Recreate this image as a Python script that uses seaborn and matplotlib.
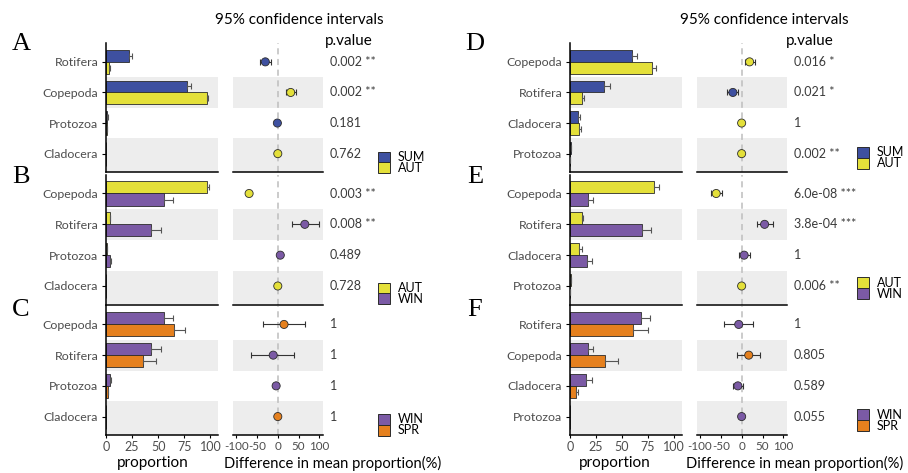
import numpy as np
import pandas as pd
import matplotlib
matplotlib.use("Agg")
import matplotlib.pyplot as plt
import seaborn as sns
from matplotlib.patches import Rectangle
from matplotlib.transforms import blended_transform_factory

# ---------------- data ----------------
A_cats = ["Rotifera", "Copepoda", "Protozoa", "Cladocera"]
A_groups = ["SUM", "AUT"]
A_mean1 = [22.0, 78.0, 1.2, 0.0]
A_err1 = [3.0, 3.5, 0.3, 0.0]
A_mean2 = [3.0, 96.5, 0.6, 0.0]
A_err2 = [0.6, 1.0, 0.2, 0.0]
A_diff = [-30.0, 31.0, -1.0, 0.0]
A_lo = [-42.0, 19.0, -1.0, 0.0]
A_hi = [-16.0, 44.0, -1.0, 0.0]
A_dgroup = ["SUM", "AUT", "SUM", "AUT"]
A_p = ["0.002 **", "0.002 **", "0.181", "0.762"]

B_cats = ["Copepoda", "Rotifera", "Protozoa", "Cladocera"]
B_groups = ["AUT", "WIN"]
B_mean1 = [96.5, 3.4, 0.5, 0.0]
B_err1 = [1.8, 0.8, 0.2, 0.0]
B_mean2 = [55.5, 43.0, 3.8, 0.0]
B_err2 = [8.5, 9.5, 1.3, 0.0]
B_diff = [-69.0, 65.0, 6.0, 0.0]
B_lo = [-69.0, 33.0, 6.0, 0.0]
B_hi = [-69.0, 99.0, 6.0, 0.0]
B_dgroup = ["AUT", "WIN", "WIN", "AUT"]
B_p = ["0.003 **", "0.008 **", "0.489", "0.728"]

C_cats = ["Copepoda", "Rotifera", "Protozoa", "Cladocera"]
C_groups = ["WIN", "SPR"]
C_mean1 = [55.5, 43.0, 3.8, 0.0]
C_err1 = [8.5, 9.5, 1.3, 0.0]
C_mean2 = [64.8, 35.7, 1.5, 0.0]
C_err2 = [11.0, 12.0, 0.5, 0.0]
C_diff = [15.0, -11.0, -4.0, 0.0]
C_lo = [-35.0, -64.0, -4.0, 0.0]
C_hi = [66.0, 40.0, -4.0, 0.0]
C_dgroup = ["SPR", "WIN", "WIN", "SPR"]
C_p = ["1", "1", "1", "1"]

D_cats = ["Copepoda", "Rotifera", "Cladocera", "Protozoa"]
D_groups = ["SUM", "AUT"]
D_mean1 = [59.5, 32.8, 8.0, 0.6]
D_err1 = [5.0, 6.0, 1.2, 0.1]
D_mean2 = [79.3, 11.1, 8.6, 0.3]
D_err2 = [3.5, 2.6, 2.2, 0.1]
D_diff = [19.0, -21.0, 0.0, 0.0]
D_lo = [7.0, -34.0, 0.0, 0.0]
D_hi = [31.0, -9.0, 0.0, 0.0]
D_dgroup = ["AUT", "SUM", "AUT", "AUT"]
D_p = ["0.016 *", "0.021 *", "1", "0.002 **"]

E_cats = ["Copepoda", "Rotifera", "Cladocera", "Protozoa"]
E_groups = ["AUT", "WIN"]
E_mean1 = [81.2, 11.8, 8.9, 0.5]
E_err1 = [4.0, 1.0, 2.9, 0.1]
E_mean2 = [17.5, 69.4, 15.9, 0.3]
E_err2 = [4.8, 8.6, 5.4, 0.1]
E_diff = [-61.0, 55.0, 6.0, 0.0]
E_lo = [-73.0, 36.0, -6.0, 0.0]
E_hi = [-48.0, 76.0, 19.0, 0.0]
E_dgroup = ["AUT", "WIN", "WIN", "AUT"]
E_p = ["6.0e-08 ***", "3.8e-04 ***", "1", "0.006 **"]

F_cats = ["Rotifera", "Copepoda", "Cladocera", "Protozoa"]
F_groups = ["WIN", "SPR"]
F_mean1 = [68.5, 16.9, 15.3, 0.2]
F_err1 = [8.2, 4.8, 5.7, 0.0]
F_mean2 = [60.8, 34.1, 6.0, 0.1]
F_err2 = [14.4, 11.7, 2.0, 0.0]
F_diff = [-7.0, 17.0, -9.0, 0.0]
F_lo = [-42.0, -10.0, -21.0, 0.0]
F_hi = [27.0, 44.0, 4.0, 0.0]
F_dgroup = ["WIN", "SPR", "WIN", "WIN"]
F_p = ["1", "0.805", "0.589", "0.055"]

bar_ticks = [0, 25, 50, 75, 100]
diff_ticks = [-100, -50, 0, 50, 100]

# ---------------- style ----------------
W, H = 908, 473
sns.set_theme(style="white")
plt.rcParams['font.family'] = ['Lato', 'DejaVu Sans']

COLORS = {"SUM": "#3E50A0", "AUT": "#E4E03A", "WIN": "#7B5AA5", "SPR": "#E5801E"}
BAND = "#EDEDED"
TXT = "#4D4D4D"

fig = plt.figure(figsize=(W / 100, H / 100), dpi=100)


def px_axes(x0, x1, y0, y1):
    return fig.add_axes([x0 / W, 1 - y1 / H, (x1 - x0) / W, (y1 - y0) / H])


def bands(ax):
    ax.axhspan(0.5, 1.5, color=BAND, lw=0, zorder=0)
    ax.axhspan(2.5, 3.6, color=BAND, lw=0, zorder=0)


def draw_bars(ax, cats, groups, m1, e1, m2, e2, bottom):
    bands(ax)
    df = pd.DataFrame({
        "cat": cats + cats,
        "group": [groups[0]] * len(cats) + [groups[1]] * len(cats),
        "value": list(m1) + list(m2),
    })
    sns.barplot(data=df, x="value", y="cat", hue="group", order=cats,
                hue_order=groups, palette=COLORS, orient="h", width=0.78,
                saturation=1, edgecolor="#2b2b2b", linewidth=0.6,
                errorbar=None, legend=False, ax=ax, zorder=2)
    pos = np.arange(len(cats))
    for m, e, off in [(m1, e1, -0.195), (m2, e2, 0.195)]:
        m = np.asarray(m); e = np.asarray(e)
        keep = e > 0
        ax.errorbar(m[keep], pos[keep] + off, xerr=[np.zeros(keep.sum()), e[keep]],
                    fmt="none", ecolor="#555555", elinewidth=0.8, capsize=2.3,
                    capthick=0.8, zorder=3)
    ax.set_xlim(0, 107.5)
    ax.set_ylim(3.6, -0.6)
    ax.set_xlabel("")
    ax.set_ylabel("")
    for s in ["top", "right"]:
        ax.spines[s].set_visible(False)
    for s in ["left", "bottom"]:
        ax.spines[s].set_color("black")
        ax.spines[s].set_linewidth(1.1)
    ax.tick_params(axis="y", length=3, width=0.8, color="black", pad=2.5,
                   labelsize=8.9, labelcolor=TXT, left=True)
    if bottom:
        ax.set_xticks(bar_ticks)
        ax.set_xticklabels([str(t) for t in bar_ticks])
        ax.tick_params(axis="x", length=2.3, width=0.8, color="black", pad=2,
                       labelsize=9, labelcolor=TXT, bottom=True)
    else:
        ax.set_xticks([])


def draw_diff(ax, cats, diff, lo, hi, dgroup, pvals, bottom):
    bands(ax)
    ax.axvline(0, color="#BDBDBD", ls=(0, (4, 3)), lw=1.1, zorder=1)
    y = np.arange(len(cats))
    d = np.asarray(diff); l = np.asarray(lo); h = np.asarray(hi)
    keep = (h - l) > 0
    ax.errorbar(d[keep], y[keep], xerr=[d[keep] - l[keep], h[keep] - d[keep]],
                fmt="none", ecolor="#333333", elinewidth=0.8, capsize=2.3,
                capthick=0.8, zorder=2)
    df = pd.DataFrame({"diff": d, "pos": y, "group": dgroup})
    sns.scatterplot(data=df, x="diff", y="pos", hue="group", palette=COLORS,
                    s=34, edgecolor="#2b2b2b", linewidth=0.6, legend=False,
                    ax=ax, zorder=3)
    ax.set_xlim(-107, 108)
    ax.set_ylim(3.6, -0.6)
    ax.set_xlabel("")
    ax.set_ylabel("")
    ax.set_yticks([])
    for s in ["top", "right", "left"]:
        ax.spines[s].set_visible(False)
    ax.spines["bottom"].set_color("black")
    ax.spines["bottom"].set_linewidth(1.1)
    if bottom:
        ax.set_xticks(diff_ticks)
        ax.set_xticklabels([str(t) for t in diff_ticks])
        ax.tick_params(axis="x", length=2.3, width=0.8, color="black", pad=2,
                       labelsize=8.4, labelcolor=TXT, bottom=True)
    else:
        ax.set_xticks([])
    tr = blended_transform_factory(ax.transAxes, ax.transData)
    for i, p in enumerate(pvals):
        ax.text(1.08, i, p, transform=tr, ha="left", va="center",
                fontsize=9, color="#3a3a3a")


rows_y = [(43.5, 172), (175, 304.5), (306, 435)]
cols = [
    dict(bar=(106, 218.3), diff=(233.3, 322.7), letter_x=21, legend_x=378,
         title_x=299, pv_x=349, prop_x=153, dlab_x=224,
         legend_y=[151.7, 282.7, 414]),
    dict(bar=(570, 681.7), diff=(697, 786.7), letter_x=475, legend_x=857,
         title_x=764, pv_x=810, prop_x=615, dlab_x=686,
         legend_y=[147, 277.3, 409.3]),
]

panels = [
    [("A", A_cats, A_groups, A_mean1, A_err1, A_mean2, A_err2, A_diff, A_lo, A_hi, A_dgroup, A_p),
     ("B", B_cats, B_groups, B_mean1, B_err1, B_mean2, B_err2, B_diff, B_lo, B_hi, B_dgroup, B_p),
     ("C", C_cats, C_groups, C_mean1, C_err1, C_mean2, C_err2, C_diff, C_lo, C_hi, C_dgroup, C_p)],
    [("D", D_cats, D_groups, D_mean1, D_err1, D_mean2, D_err2, D_diff, D_lo, D_hi, D_dgroup, D_p),
     ("E", E_cats, E_groups, E_mean1, E_err1, E_mean2, E_err2, E_diff, E_lo, E_hi, E_dgroup, E_p),
     ("F", F_cats, F_groups, F_mean1, F_err1, F_mean2, F_err2, F_diff, F_lo, F_hi, F_dgroup, F_p)],
]

letter_y = [44, 177, 310]

for ci, col in enumerate(cols):
    for ri, (y0, y1) in enumerate(rows_y):
        (letter, cats, groups, m1, e1, m2, e2, diff, lo, hi, dg, pv) = panels[ci][ri]
        bottom = ri == 2
        axb = px_axes(col["bar"][0], col["bar"][1], y0, y1)
        draw_bars(axb, cats, groups, m1, e1, m2, e2, bottom)
        axd = px_axes(col["diff"][0], col["diff"][1], y0, y1)
        draw_diff(axd, cats, diff, lo, hi, dg, pv, bottom)
        # panel letter
        fig.text(col["letter_x"] / W, 1 - letter_y[ri] / H, letter,
                 family="Liberation Serif", fontsize=19, ha="center",
                 va="center", color="black")
        # legend
        ly = col["legend_y"][ri]
        bh = 10.8
        for k, g in enumerate(groups):
            yy = ly + k * bh
            fig.add_artist(Rectangle((col["legend_x"] / W, 1 - (yy + bh) / H),
                                     12 / W, bh / H, transform=fig.transFigure,
                                     facecolor=COLORS[g], edgecolor="#2b2b2b",
                                     lw=0.7))
            fig.text((col["legend_x"] + 20) / W, 1 - (yy + bh / 2) / H, g,
                     fontsize=9, ha="left", va="center", color="black")
    fig.text(col["title_x"] / W, 1 - 20.5 / H, "95% confidence intervals",
             fontsize=11, ha="center", va="center", color="black")
    fig.text(col["pv_x"] / W, 1 - 41 / H, "p.value",
             fontsize=11, ha="center", va="center", color="black")
    fig.text(col["prop_x"] / W, 1 - 463 / H, "proportion",
             fontsize=11, ha="center", va="center", color="black")
    fig.text(col["dlab_x"] / W, 1 - 463 / H, "Difference in mean proportion(%)",
             fontsize=10.6, ha="left", va="center", color="black")

fig.savefig("out.png", dpi=100)
